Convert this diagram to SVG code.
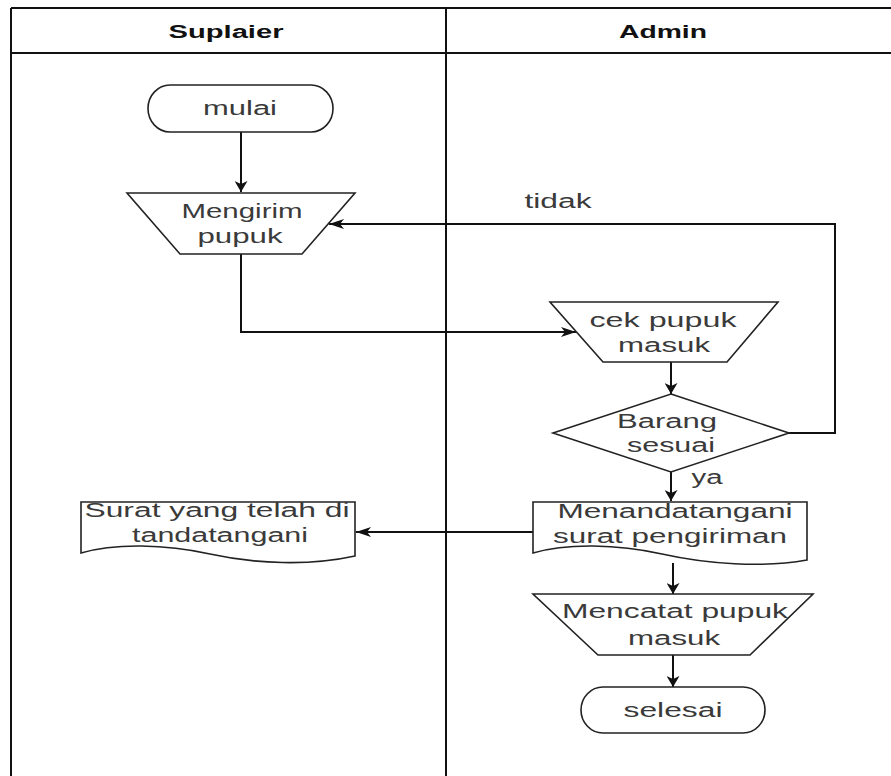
<svg xmlns="http://www.w3.org/2000/svg" width="891" height="776" viewBox="0 0 891 776">
<style>
.lane{stroke:#111;stroke-width:2;fill:none}
.shape{fill:#fff;stroke:#222;stroke-width:1.6}
.conn{fill:none;stroke:#111;stroke-width:2}
text{font-family:"Liberation Sans",Arial,sans-serif;font-size:20px;fill:#3a3a3a;text-anchor:middle}
.hdr{font-weight:bold;font-size:18px;fill:#111}
</style>
<defs>
<marker id="aV" viewBox="0 0 11 13" refX="11" refY="6.5" markerWidth="11" markerHeight="13" markerUnits="userSpaceOnUse" orient="auto"><path d="M0,0 L11,6.5 L0,13 L3,6.5 z" fill="#111"/></marker>
<marker id="aH" viewBox="0 0 15 10" refX="15" refY="5" markerWidth="15" markerHeight="10" markerUnits="userSpaceOnUse" orient="auto"><path d="M0,0 L15,5 L0,10 L4,5 z" fill="#111"/></marker>
</defs>
<rect width="891" height="776" fill="#fff"/>
<g id="lanes">
<path class="lane" d="M11,8 H891 M11,53 H891 M11,8 V776 M446,8 V776"/>
<text class="hdr" x="226" y="38" textLength="115" lengthAdjust="spacingAndGlyphs">Suplaier</text>
<text class="hdr" x="663" y="38" textLength="88" lengthAdjust="spacingAndGlyphs">Admin</text>
</g>
<g id="connectors">
<path class="conn" d="M241,132 V192" marker-end="url(#aV)"/>
<path class="conn" d="M241,254 V332 H576" marker-end="url(#aH)"/>
<path class="conn" d="M671,362 V394" marker-end="url(#aV)"/>
<path class="conn" d="M789,433 H835 V224 H329" marker-end="url(#aH)"/>
<path class="conn" d="M671,472 V501" marker-end="url(#aV)"/>
<path class="conn" d="M533,532 H356" marker-end="url(#aH)"/>
<path class="conn" d="M673,563 V594" marker-end="url(#aV)"/>
<path class="conn" d="M673,655 V687" marker-end="url(#aV)"/>
<text x="558" y="208" textLength="67" lengthAdjust="spacingAndGlyphs">tidak</text>
<text x="707" y="484" textLength="31" lengthAdjust="spacingAndGlyphs">ya</text>
</g>
<g id="mulai">
<rect class="shape" x="148" y="85" width="185" height="47" rx="22" ry="23.5"/>
<text x="240" y="115" textLength="74" lengthAdjust="spacingAndGlyphs">mulai</text>
</g>
<g id="mengirim">
<path class="shape" d="M127,193 H355 L302,254 H180 Z"/>
<text x="242" y="218" textLength="121" lengthAdjust="spacingAndGlyphs">Mengirim</text>
<text x="240" y="243" textLength="85" lengthAdjust="spacingAndGlyphs">pupuk</text>
</g>
<g id="cek">
<path class="shape" d="M550,302 H778 L727,362 H603 Z"/>
<text x="663" y="327" textLength="147" lengthAdjust="spacingAndGlyphs">cek pupuk</text>
<text x="664" y="352" textLength="92" lengthAdjust="spacingAndGlyphs">masuk</text>
</g>
<g id="barang">
<path class="shape" d="M671,394 L789,433 L671,472 L553,433 Z"/>
<text x="667" y="428" textLength="100" lengthAdjust="spacingAndGlyphs">Barang</text>
<text x="671" y="452" textLength="88" lengthAdjust="spacingAndGlyphs">sesuai</text>
</g>
<g id="menandatangani">
<path class="shape" d="M533,502 H807 V560 C762,568 707,564 662,554 C617,544 567,543 533,553 Z"/>
<text x="675" y="518" textLength="235" lengthAdjust="spacingAndGlyphs">Menandatangani</text>
<text x="670" y="543" textLength="234" lengthAdjust="spacingAndGlyphs">surat pengiriman</text>
</g>
<g id="surat">
<path class="shape" d="M81,502 H355 V556 C310,566 255,564 210,554 C165,544 115,543 81,553 Z"/>
<text x="217" y="517" textLength="265" lengthAdjust="spacingAndGlyphs">Surat yang telah di</text>
<text x="220" y="542" textLength="176" lengthAdjust="spacingAndGlyphs">tandatangani</text>
</g>
<g id="mencatat">
<path class="shape" d="M533,594 H813 L750,655 H598 Z"/>
<text x="675" y="618" textLength="226" lengthAdjust="spacingAndGlyphs">Mencatat pupuk</text>
<text x="674" y="645" textLength="92" lengthAdjust="spacingAndGlyphs">masuk</text>
</g>
<g id="selesai">
<rect class="shape" x="581" y="687" width="184" height="46" rx="22" ry="23"/>
<text x="673" y="717" textLength="99" lengthAdjust="spacingAndGlyphs">selesai</text>
</g>
</svg>
